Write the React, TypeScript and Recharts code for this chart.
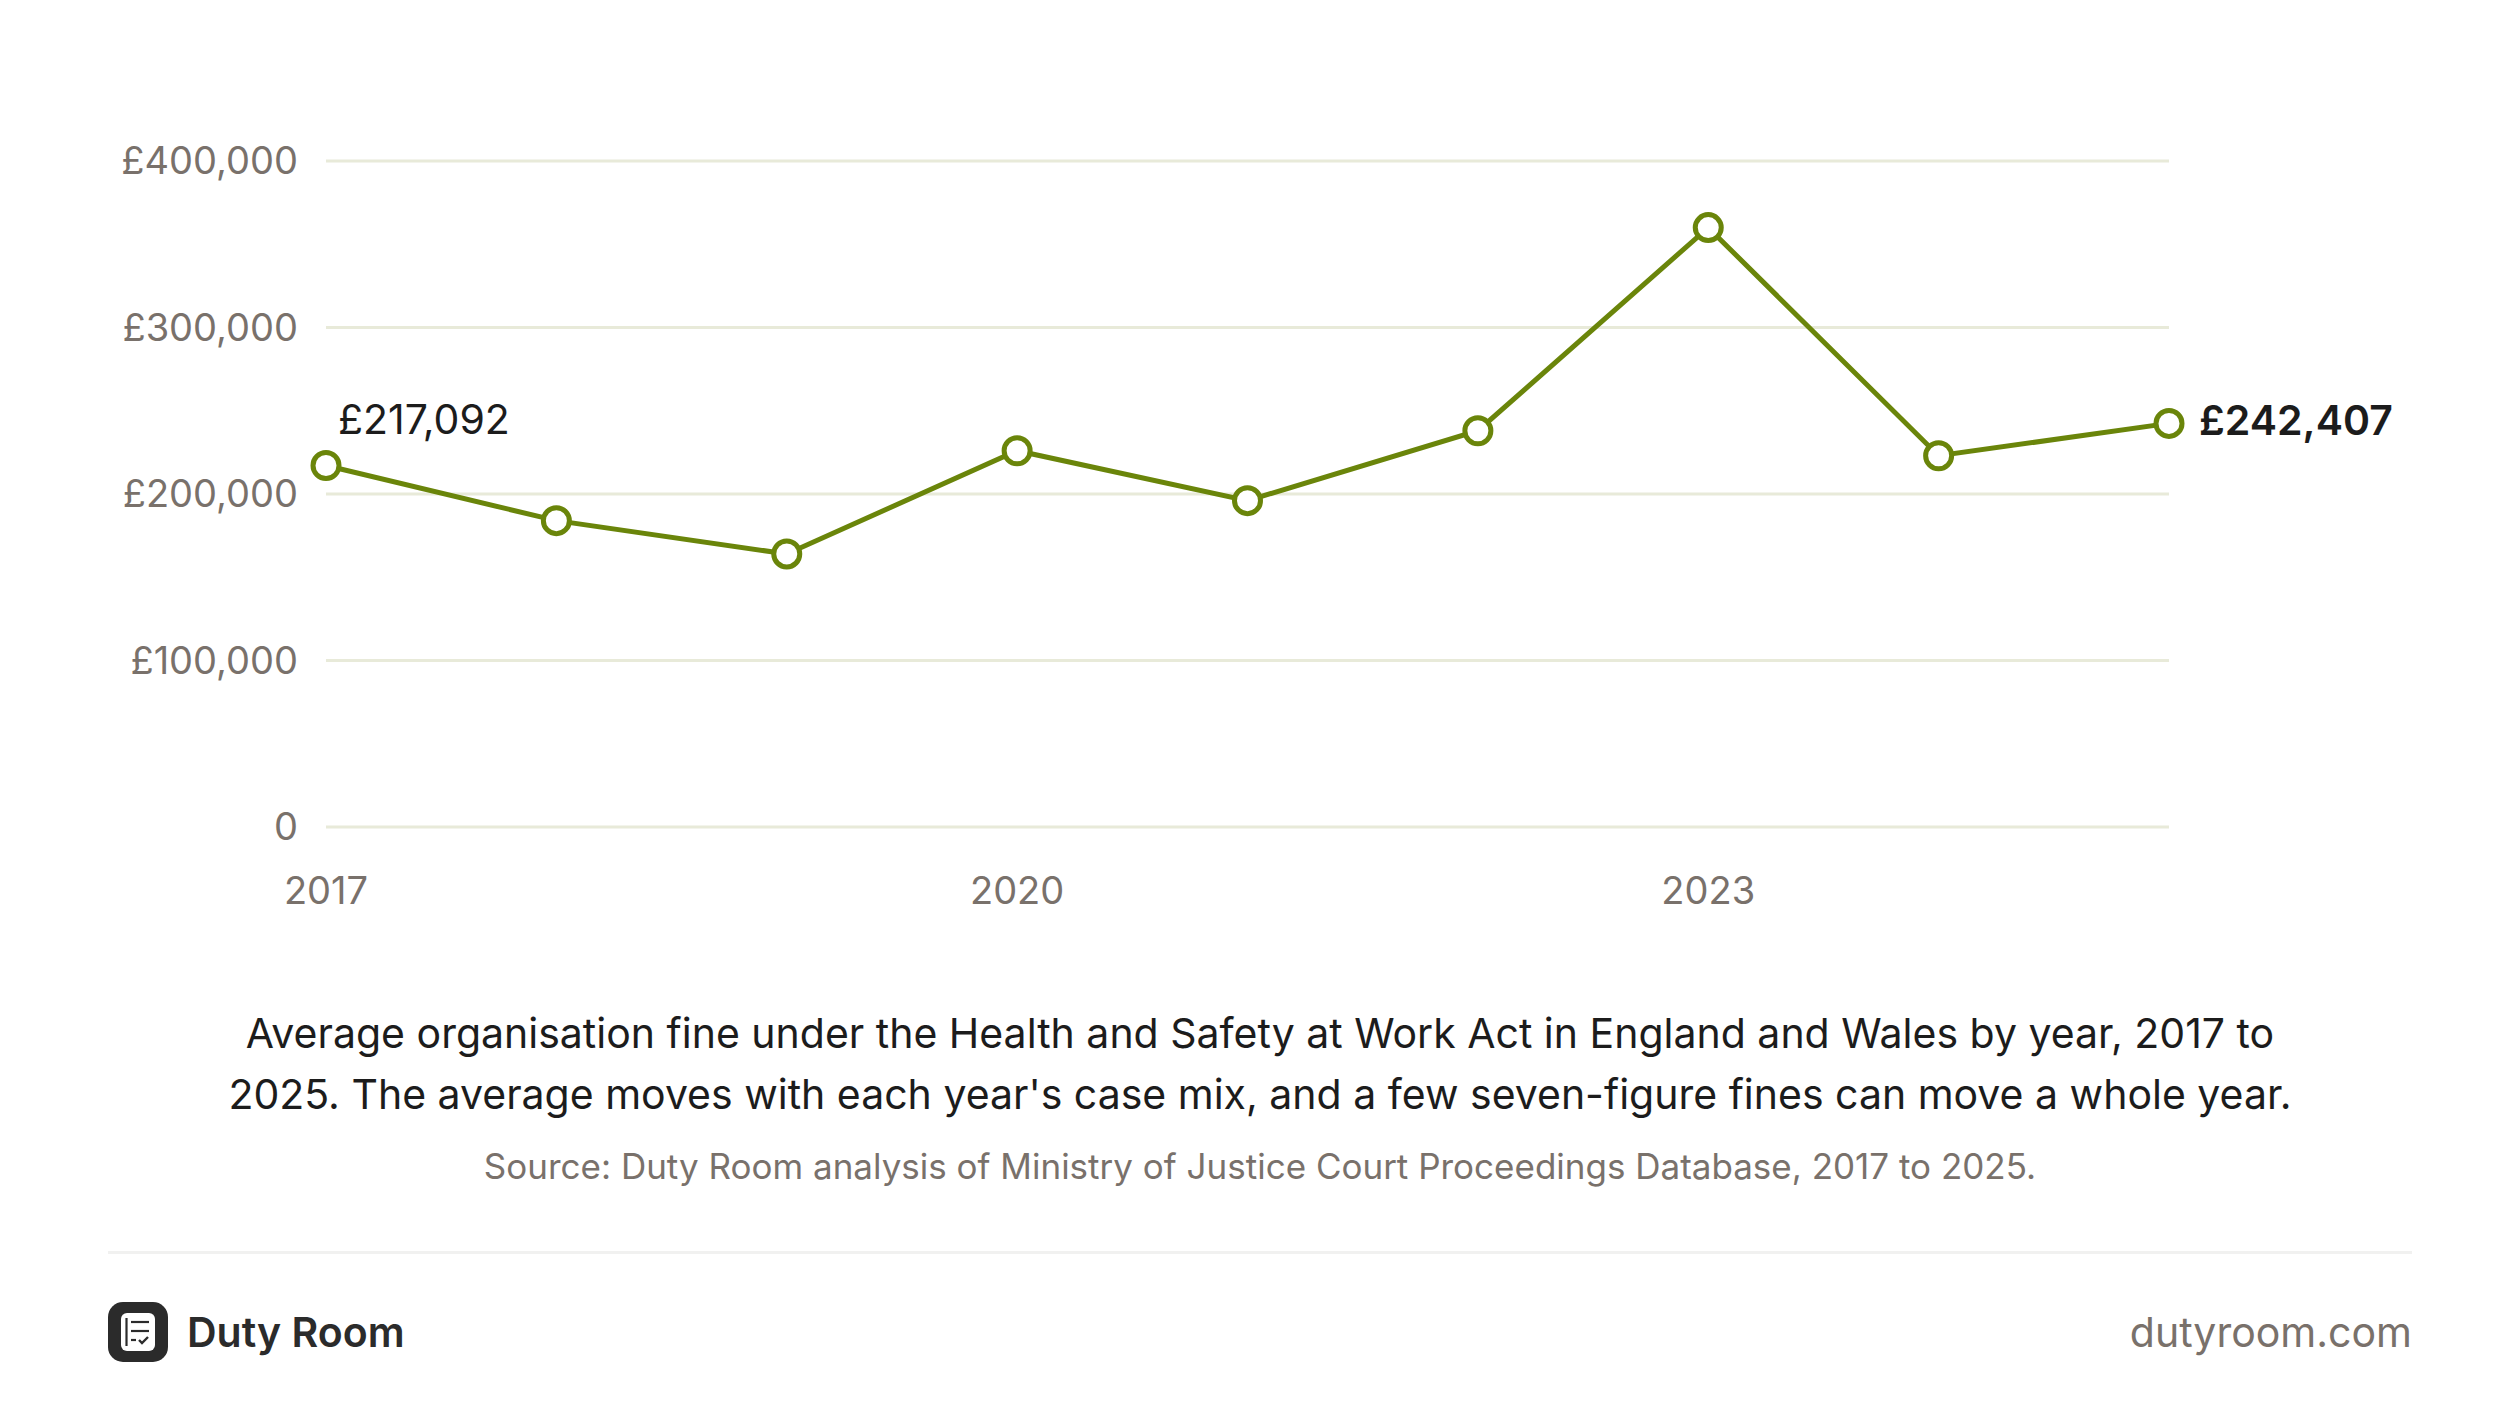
import React from 'react';
import { LineChart, Line, XAxis, YAxis, CartesianGrid } from 'recharts';

const years = [2017, 2018, 2019, 2020, 2021, 2022, 2023, 2024, 2025];
const averageFine = [217092, 184000, 164000, 226000, 196000, 238000, 360000, 223000, 242407];
const yTicks = [0, 100000, 200000, 300000, 400000];

const captionLines = [
  'Average organisation fine under the Health and Safety at Work Act in England and Wales by year, 2017 to',
  "2025. The average moves with each year's case mix, and a few seven-figure fines can move a whole year.",
];
const sourceText = 'Source: Duty Room analysis of Ministry of Justice Court Proceedings Database, 2017 to 2025.';

const data = years.map((year, i) => ({ year, fine: averageFine[i] }));

const GREEN = '#6A850A';
const GREY = '#79716B';
const FONT = 'Inter, "Noto Sans", sans-serif';

const pounds = (v: number) => (v === 0 ? '0' : '£' + v.toLocaleString('en-GB'));

const EndLabel = (props: any) => {
  const { x, y, index, value } = props;
  if (index === 0) {
    return (
      <text x={x + 12} y={y - 46} dy="0.355em" fill="#1c1c1c" fontSize={41} fontFamily={FONT}>
        {pounds(value)}
      </text>
    );
  }
  if (index === data.length - 1) {
    return (
      <text x={x + 30} y={y - 3} dy="0.355em" fill="#1c1c1c" fontSize={41} fontWeight={600} fontFamily={FONT}>
        {pounds(value)}
      </text>
    );
  }
  return null;
};

const Logo = () => (
  <svg width={60} height={60} viewBox="0 0 60 60">
    <rect x={0} y={0} width={60} height={60} rx={15} fill="#2b2b2b" />
    <rect x={13} y={11} width={34} height={38} rx={6} fill="#ffffff" />
    <line x1={18.5} y1={16} x2={18.5} y2={44} stroke="#2b2b2b" strokeWidth={2.2} />
    <line x1={23} y1={20} x2={41} y2={20} stroke="#2b2b2b" strokeWidth={2.2} />
    <line x1={23} y1={29} x2={41} y2={29} stroke="#2b2b2b" strokeWidth={2.2} />
    <line x1={23} y1={38} x2={28} y2={38} stroke="#2b2b2b" strokeWidth={2.2} />
    <polyline points="31,38 34,41 40,35" fill="none" stroke="#2b2b2b" strokeWidth={2.4} />
  </svg>
);

export default function App() {
  return (
    <div
      style={{
        position: 'absolute',
        left: 0,
        top: 0,
        width: 2520,
        height: 1422,
        background: '#ffffff',
        fontFamily: FONT,
        overflow: 'hidden',
      }}
    >
      <div style={{ position: 'absolute', left: 0, top: 0 }}>
        <LineChart
          width={2520}
          height={960}
          data={data}
          margin={{ top: 161, right: 351, left: 0, bottom: 53 }}
        >
          <CartesianGrid vertical={false} stroke="#E8EAD9" strokeWidth={3} />
          <XAxis
            dataKey="year"
            axisLine={false}
            tickLine={false}
            tickSize={0}
            tickMargin={50}
            height={80}
            interval={2}
            tick={{ fill: GREY, fontSize: 38, fontFamily: FONT }}
          />
          <YAxis
            width={326}
            domain={[0, 400000]}
            ticks={yTicks}
            axisLine={false}
            tickLine={false}
            tickSize={0}
            tickMargin={28}
            tickFormatter={pounds}
            tick={{ fill: GREY, fontSize: 38, fontFamily: FONT }}
          />
          <Line
            dataKey="fine"
            stroke={GREEN}
            strokeWidth={5}
            dot={{ r: 13, fill: '#ffffff', stroke: GREEN, strokeWidth: 5 }}
            activeDot={false}
            label={<EndLabel />}
            isAnimationActive={false}
          />
        </LineChart>
      </div>

      <div
        style={{
          position: 'absolute',
          left: 0,
          width: 2520,
          top: 1003,
          textAlign: 'center',
          fontSize: 41,
          lineHeight: '61px',
          color: '#1c1c1c',
        }}
      >
        {captionLines.map((l) => (
          <div key={l}>{l}</div>
        ))}
      </div>

      <div
        style={{
          position: 'absolute',
          left: 0,
          width: 2520,
          top: 1145,
          textAlign: 'center',
          fontSize: 35,
          lineHeight: '42px',
          color: GREY,
        }}
      >
        {sourceText}
      </div>

      <div style={{ position: 'absolute', left: 108, top: 1251, width: 2304, height: 3, background: '#F1F1F0' }} />

      <div style={{ position: 'absolute', left: 108, top: 1302, display: 'flex', alignItems: 'center' }}>
        <Logo />
        <span style={{ marginLeft: 19, fontSize: 41, fontWeight: 600, color: '#2b2b2b' }}>Duty Room</span>
      </div>

      <div
        style={{
          position: 'absolute',
          right: 2520 - 2412,
          top: 1302,
          height: 60,
          lineHeight: '60px',
          fontSize: 41,
          color: GREY,
        }}
      >
        dutyroom.com
      </div>
    </div>
  );
}
